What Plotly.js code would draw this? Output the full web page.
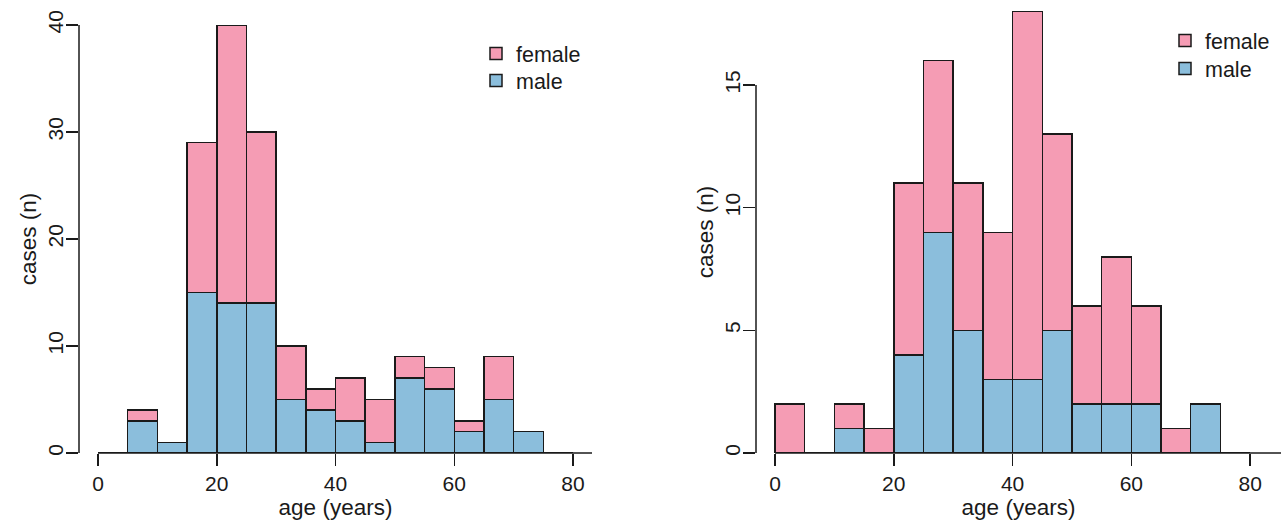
<!DOCTYPE html>
<html>
<head>
<meta charset="utf-8">
<script src="https://cdn.plot.ly/plotly-3.0.1.min.js"></script>
<style>
html,body{margin:0;padding:0;background:#ffffff;}
#chart{width:1281px;height:522px;}
</style>
</head>
<body>
<div id="chart"></div>
<script>
// ---- data (5-year age bins, left edge of each bin) ----
const binStarts = [0,5,10,15,20,25,30,35,40,45,50,55,60,65,70,75];
const binWidth = 5;
const leftMale   = [0,3,1,15,14,14,5,4,3,1,7,6,2,5,2,0];
const leftFemale = [0,1,0,14,26,16,5,2,4,4,2,2,1,4,0,0];
const rightMale   = [0,0,1,0,4,9,5,3,3,5,2,2,2,0,2,0];
const rightFemale = [2,0,1,1,7,7,6,6,15,8,4,6,4,1,0,0];
const seriesNames = ['male','female'];
const xTicks = [0,20,40,60,80];
const leftYTicks = [0,10,20,30,40];
const rightYTicks = [0,5,10,15];

// ---- styling ----
const W = 1281, H = 522;
const pink = '#F59CB4';
const blue = '#8BBEDC';
const ink = '#1a1a1a';
const FONT = 'Liberation Sans, Arial, Helvetica, sans-serif';
const px2x = p => p / W;
const px2y = p => 1 - p / H;

const leftXRange = [-3.2, 83.2];
const rightXRange = [-3.2, 85.2];
const leftYRange = [0, 40];
const rightYRange = [0, 18.02];
const leftYDomain = [px2y(453), px2y(25)];
const rightYDomain = [px2y(453), px2y(11)];

function bars(xa, ya, vals, name, color, legendId) {
  return {
    type: 'bar', x: binStarts, y: vals, width: binWidth, offset: 0,
    name: name, xaxis: xa, yaxis: ya, legend: legendId,
    marker: {color: color, line: {color: ink, width: 1.5}},
    hoverinfo: 'x+y+name'
  };
}

const traces = [
  bars('x', 'y', leftMale, seriesNames[0], blue, 'legend3'),
  bars('x', 'y', leftFemale, seriesNames[1], pink, 'legend'),
  bars('x2', 'y2', rightMale, seriesNames[0], blue, 'legend4'),
  bars('x2', 'y2', rightFemale, seriesNames[1], pink, 'legend2')
];

function xAxis(domain, range, anchor) {
  return {
    domain: domain, range: range, anchor: anchor,
    tickmode: 'array', tickvals: xTicks, ticktext: xTicks.map(String),
    ticks: 'outside', ticklen: 12, tickwidth: 1.5, tickcolor: ink,
    showline: false, showgrid: false, zeroline: false,
    tickfont: {family: FONT, size: 21, color: ink},
    title: {text: 'age (years)', font: {family: FONT, size: 22.5, color: ink}, standoff: 2},
    automargin: false, fixedrange: true
  };
}
function yAxis(domain, range, ticks, anchor) {
  return {
    domain: domain, range: range, anchor: anchor,
    tickmode: 'array', tickvals: ticks, ticktext: ticks.map(String),
    tickangle: -90,
    ticks: 'outside', ticklen: 12, tickwidth: 1.5, tickcolor: ink,
    ticklabelstandoff: -5,
    showline: false, showgrid: false, zeroline: false,
    tickfont: {family: FONT, size: 21, color: ink},
    title: {text: 'cases (n)', font: {family: FONT, size: 22.5, color: ink}, standoff: 0},
    automargin: false, fixedrange: true
  };
}

const axisLine = {color: ink, width: 1.5};
const shapes = [
  // left panel axis lines
  {type: 'line', xref: 'x domain', yref: 'y', x0: 0, x1: 0, y0: 0, y1: leftYTicks[leftYTicks.length-1], line: axisLine},
  {type: 'line', xref: 'x', yref: 'paper', x0: 0, x1: leftXRange[1], y0: leftYDomain[0], y1: leftYDomain[0], line: axisLine},
  // right panel axis lines
  {type: 'line', xref: 'x2 domain', yref: 'y2', x0: 0, x1: 0, y0: 0, y1: rightYTicks[rightYTicks.length-1], line: axisLine},
  {type: 'line', xref: 'x2', yref: 'paper', x0: 0, x1: rightXRange[1], y0: rightYDomain[0], y1: rightYDomain[0], line: axisLine}
];

const legendBase = {
  bgcolor: 'rgba(0,0,0,0)', borderwidth: 0,
  font: {family: FONT, size: 21.5, color: ink},
  xanchor: 'left', yanchor: 'top', itemclick: false, itemdoubleclick: false
};
const leg = (xpx, ypx) => Object.assign({}, legendBase, {x: px2x(xpx), y: px2y(ypx)});

const layout = {
  width: W, height: H,
  margin: {l: 0, r: 0, t: 0, b: 0, pad: 0},
  paper_bgcolor: '#ffffff', plot_bgcolor: '#ffffff',
  barmode: 'stack', bargap: 0,
  showlegend: true,
  xaxis: xAxis([px2x(79), px2x(592)], leftXRange, 'y'),
  yaxis: yAxis(leftYDomain, leftYRange, leftYTicks, 'x'),
  xaxis2: xAxis([px2x(756), 1], rightXRange, 'y2'),
  yaxis2: yAxis(rightYDomain, rightYRange, rightYTicks, 'x2'),
  legend: leg(476, 33),
  legend3: leg(476, 60),
  legend2: leg(1165, 20),
  legend4: leg(1165, 48),
  shapes: shapes,
  font: {family: FONT, color: ink}
};

Plotly.newPlot('chart', traces, layout, {displayModeBar: false, staticPlot: true});
</script>
</body>
</html>
